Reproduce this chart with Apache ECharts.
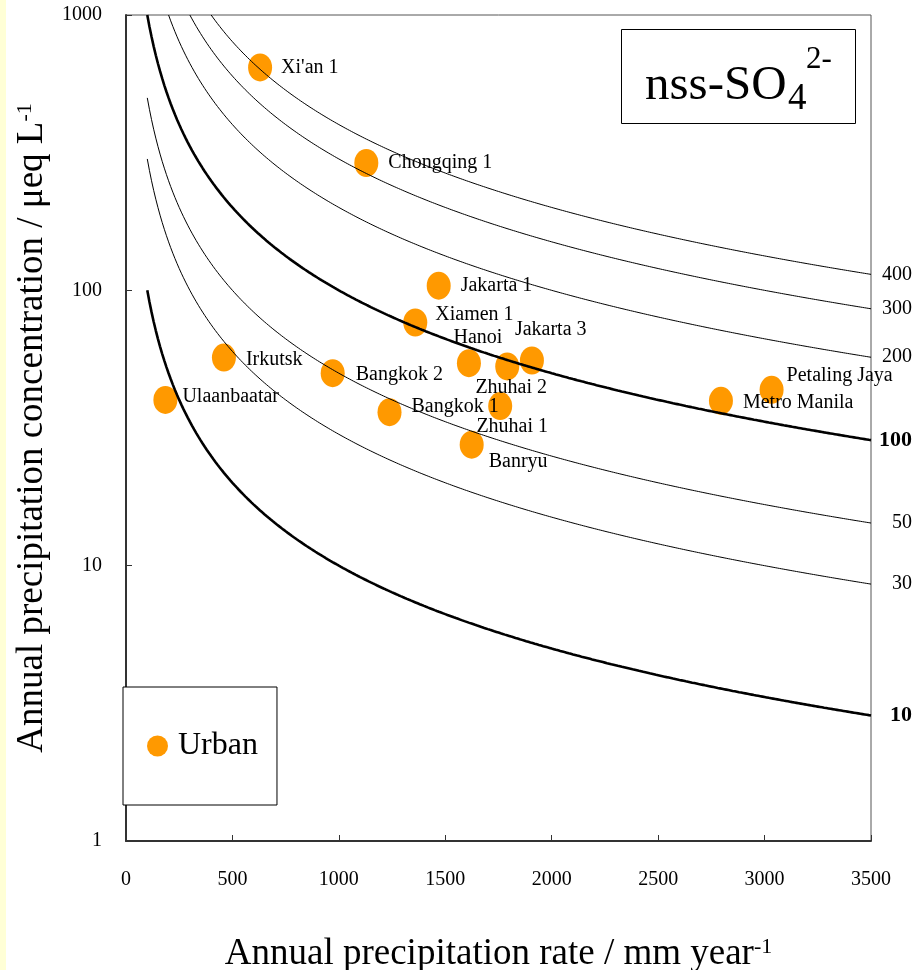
<!DOCTYPE html>
<html>
<head>
<meta charset="utf-8">
<script src="https://cdn.jsdelivr.net/npm/echarts@6/dist/echarts.min.js"></script>
<style>
html,body{margin:0;padding:0;background:#fff;}
#chart{width:916px;height:970px;}
</style>
</head>
<body>
<div id="chart"></div>
<script>
// ---- data ----
const sites = ["Xi'an 1", 'Chongqing 1', 'Jakarta 1', 'Xiamen 1', 'Hanoi', 'Jakarta 3', 'Zhuhai 2',
  'Irkutsk', 'Bangkok 2', 'Ulaanbaatar', 'Bangkok 1', 'Zhuhai 1', 'Banryu', 'Metro Manila', 'Petaling Jaya'];
const precipitation = [630, 1129, 1469, 1359, 1611, 1907, 1791, 460, 971, 185, 1238, 1758, 1624, 2795, 3033];
const concentration = [645, 290, 104, 76.4, 54.4, 55.6, 52.9, 57.0, 50.0, 40.0, 36.1, 38.0, 27.5, 39.7, 43.5];
// iso-deposition reference lines (concentration = 1000 * deposition / precipitation)
const depositionLevels = [10, 30, 50, 100, 200, 300, 400];
const boldLevels = [10, 100];
const xTickLabels = ['0', '500', '1000', '1500', '2000', '2500', '3000', '3500'];
const yTickLabels = ['1', '10', '100', '1000'];
const legendName = 'Urban';

// ---- styling / layout ----
const FONT = '"Liberation Serif", "Times New Roman", serif';
const ORANGE = '#FF9900';
// [align, dx, dy] of each point label relative to its marker centre (pixels)
const labelPlacement = {
  "Xi'an 1": ['left', 21, 0],
  'Chongqing 1': ['left', 22, 0],
  'Jakarta 1': ['left', 22, 0],
  'Xiamen 1': ['left', 20, -8],
  'Hanoi': ['center', 9, -25],
  'Jakarta 3': ['left', -17, -31],
  'Zhuhai 2': ['center', 4, 21],
  'Irkutsk': ['left', 22, 2],
  'Bangkok 2': ['left', 23, 2],
  'Ulaanbaatar': ['left', 17, -3],
  'Bangkok 1': ['left', 22, -5],
  'Zhuhai 1': ['center', 12, 21],
  'Banryu': ['left', 17, 17],
  'Metro Manila': ['left', 22, 2],
  'Petaling Jaya': ['left', 15, -14]
};

const scatterData = sites.map(function (name, i) {
  return { name: name, value: [precipitation[i], concentration[i]] };
});

const X_MAX = 3500, Y_MAX = 1000, X_START = 100;
const lineSeries = depositionLevels.map(function (d) {
  const pts = [];
  const start = Math.max(X_START, 1000 * d / Y_MAX);
  pts.push([start, 1000 * d / start]);
  for (let p = Math.ceil(start / 10) * 10 + 10; p <= X_MAX; p += 10) {
    pts.push([p, 1000 * d / p]);
  }
  const bold = boldLevels.indexOf(d) >= 0;
  return {
    type: 'line',
    name: 'D' + d,
    data: pts,
    symbol: 'none',
    z: 3,
    silent: true,
    animation: false,
    lineStyle: { color: '#000', width: bold ? 2.6 : 1 },
    endLabel: {
      show: true,
      formatter: String(d),
      align: 'right',
      distance: 41,
      fontFamily: FONT,
      fontSize: bold ? 22 : 20,
      fontWeight: bold ? 'bold' : 'normal',
      color: '#000'
    }
  };
});

const chart = echarts.init(document.getElementById('chart'), null, { renderer: 'canvas' });
chart.setOption({
  backgroundColor: '#fff',
  animation: false,
  grid: { left: 126, top: 15, right: 45, bottom: 129, show: true, borderColor: '#555', borderWidth: 1,
    containLabel: false, outerBoundsMode: 'none' },
  xAxis: {
    type: 'value', min: 0, max: X_MAX, interval: 500,
    splitLine: { show: false },
    axisLine: { lineStyle: { color: '#333', width: 2 } },
    axisTick: { inside: true, length: 6, lineStyle: { color: '#333' } },
    axisLabel: {
      margin: 29, fontFamily: FONT, fontSize: 20, color: '#000',
      formatter: function (v) { const s = String(v); return xTickLabels.indexOf(s) >= 0 ? s : ''; }
    },
    name: 'Annual precipitation rate / mm year{sup|-1}',
    nameLocation: 'middle', nameGap: 95,
    nameTextStyle: {
      fontFamily: FONT, fontSize: 37, color: '#000',
      rich: { sup: { fontFamily: FONT, fontSize: 22, color: '#000', verticalAlign: 'top' } }
    }
  },
  yAxis: {
    type: 'log', logBase: 10, min: 1, max: Y_MAX,
    splitLine: { show: false },
    minorTick: { show: false },
    axisLine: { lineStyle: { color: '#333', width: 2 } },
    axisTick: { inside: true, length: 6, lineStyle: { color: '#333' } },
    axisLabel: {
      margin: 24, fontFamily: FONT, fontSize: 20, color: '#000',
      formatter: function (v) { const s = String(Math.round(v)); return yTickLabels.indexOf(s) >= 0 ? s : ''; }
    },
    name: 'Annual precipitation concentration / \u03bceq L{sup|-1}',
    nameLocation: 'middle', nameGap: 71,
    nameTextStyle: {
      fontFamily: FONT, fontSize: 37, color: '#000',
      rich: { sup: { fontFamily: FONT, fontSize: 22, color: '#000', verticalAlign: 'top' } }
    }
  },
  legend: {
    data: [{ name: legendName, icon: 'circle' }],
    left: 123, top: 687,
    orient: 'vertical',
    padding: [43, 19, 43, 24],
    itemWidth: 21, itemHeight: 24,
    backgroundColor: '#fff', borderColor: '#000', borderWidth: 1, borderRadius: 0,
    textStyle: { fontFamily: FONT, fontSize: 32, color: '#000', padding: [0, 0, 0, 5] },
    selectedMode: false
  },
  graphic: [
    { type: 'rect', left: 0, top: 0, shape: { x: 0, y: 0, width: 6, height: 970 }, style: { fill: '#FFFFD6' }, z: 0 },
    {
      type: 'group', z: 20,
      children: [
        { type: 'rect', shape: { x: 621.5, y: 29.5, width: 234, height: 94 }, style: { fill: '#fff', stroke: '#000', lineWidth: 1 } },
        { type: 'text', x: 645, y: 86, style: { text: 'nss-SO', fontFamily: FONT, fontSize: 49, fill: '#000', align: 'left', verticalAlign: 'middle' } },
        { type: 'text', x: 788, y: 99, style: { text: '4', fontFamily: FONT, fontSize: 37, fill: '#000', align: 'left', verticalAlign: 'middle' } },
        { type: 'text', x: 806, y: 59.5, style: { text: '2-', fontFamily: FONT, fontSize: 31, fill: '#000', align: 'left', verticalAlign: 'middle' } }
      ]
    }
  ],
  series: [
    {
      type: 'scatter',
      name: legendName,
      data: scatterData,
      symbol: 'circle',
      symbolSize: [24, 28],
      z: 2,
      itemStyle: { color: ORANGE, opacity: 1 },
      label: {
        show: true,
        position: 'inside',
        formatter: '{b}',
        fontFamily: FONT, fontSize: 20, color: '#000'
      },
      labelLayout: function (params) {
        const p = labelPlacement[sites[params.dataIndex]];
        const r = params.rect;
        return {
          x: r.x + r.width / 2 + p[1],
          y: r.y + r.height / 2 + p[2],
          align: p[0],
          verticalAlign: 'middle',
          hideOverlap: false
        };
      },
      emphasis: { disabled: true }
    }
  ].concat(lineSeries)
});
</script>
</body>
</html>
